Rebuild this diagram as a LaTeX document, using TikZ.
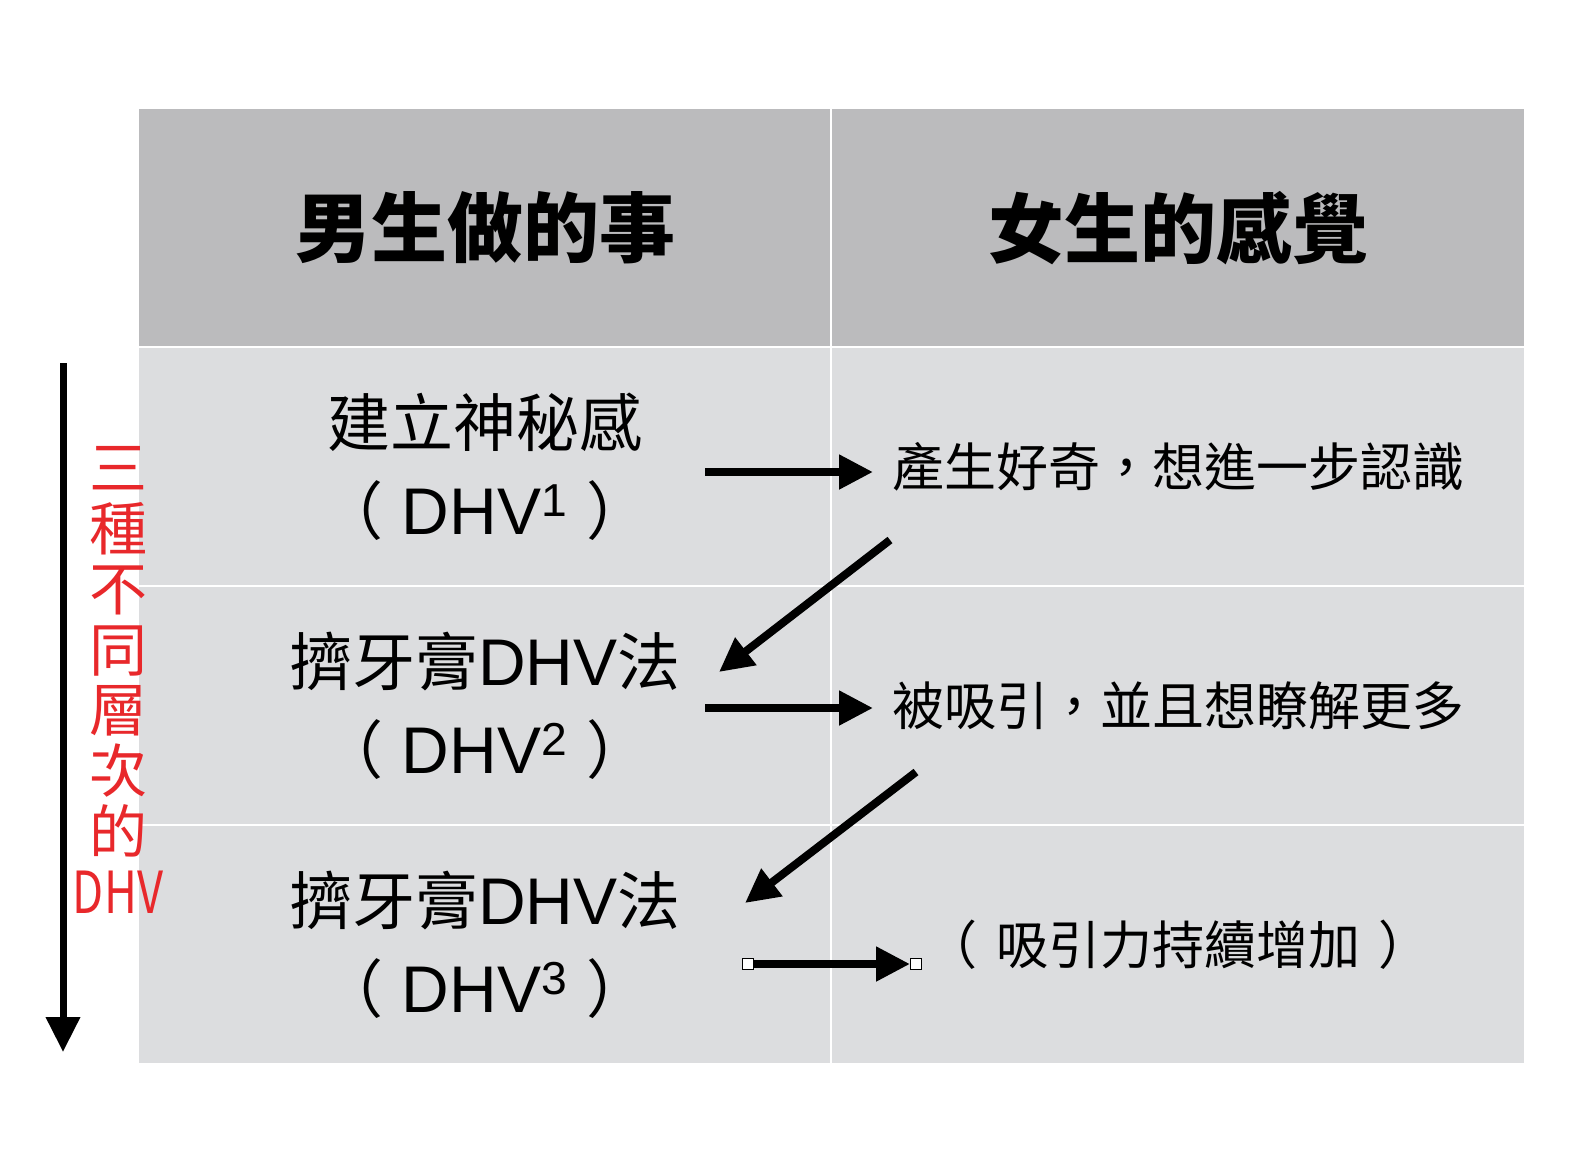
\documentclass[tikz,border=0pt]{standalone}
\usepackage{fontspec}
\setmainfont{Noto Sans CJK TC}
\newfontfamily\dhvcond[FakeStretch=0.78]{Noto Sans CJK TC}
\newfontfamily\latin{Liberation Sans}
\usetikzlibrary{arrows.meta,calc}
\definecolor{headgray}{HTML}{BBBBBD}
\definecolor{bodygray}{HTML}{DCDDDF}
\definecolor{dhvred}{HTML}{E8282B}
\newcommand{\dhv}[1]{（\kern0.3em{\latin\fontsize{33}{44}\selectfont DHV\textsuperscript{#1}}\kern0.3em）}

\begin{document}
\begin{tikzpicture}[x=0.5pt,y=-0.5pt,
    cell/.style={draw=white,line width=0.8pt,minimum width=347pt,minimum height=119.5pt,inner sep=0pt,outer sep=0pt},
    hdr/.style={cell,fill=headgray,font=\fontsize{38}{40}\selectfont\bfseries},
    row/.style={cell,fill=bodygray},
    did/.style={align=center,font=\fontsize{31.5}{44}\selectfont},
    felt/.style={font=\fontsize{26}{30}\selectfont},
    fat/.style={line width=4pt,-{Triangle[length=17pt,width=16.5pt]}},
    grip/.style={draw=black,fill=white,line width=0.5pt,minimum size=5.5pt,inner sep=0pt}]
\useasboundingbox (0,0) rectangle (1586,1152);
% header row
\node[hdr] (men) at (485,228) {男生做的事};
\node[hdr] (women) at (1178,228) {女生的感覺};
% three levels
\node[row,did] (m1) at (485,466.5) {建立神秘感\\\dhv{1}};
\node[row,felt] (w1) at (1178,466.5) {產生好奇，想進一步認識};
\node[row,did] (m2) at (485,705.5) {擠牙膏{\latin\fontsize{33}{44}\selectfont DHV}法\\\dhv{2}};
\node[row,felt] (w2) at (1178,705.5) {被吸引，並且想瞭解更多};
\node[row,did] (m3) at (485,944.5) {擠牙膏{\latin\fontsize{33}{44}\selectfont DHV}法\\\dhv{3}};
\node[row,felt] (w3) at (1178,944.5) {（\kern0.35em 吸引力持續增加\kern0.35em）};
% arrows
\draw[fat] ($(m1.east)+(-127,5.5)$) -- ($(m1.east)+(41,5.5)$);
\draw[fat] ($(w1.west)+(59,73.5)$) -- ($(m2.east)+(-113,-33.5)$);
\draw[fat] ($(m2.east)+(-127,2.5)$) -- ($(m2.east)+(41,2.5)$);
\draw[fat] ($(w2.west)+(85,66.5)$) -- ($(m3.east)+(-87,-41.5)$);
\node[grip] (g1) at ($(m3.east)+(-84,19.5)$) {};
\node[grip] (g2) at ($(m3.east)+(84,19.5)$) {};
\draw[fat] (g1) -- (g2);
% left side
\coordinate (down0) at (63,363);
\coordinate (down1) at (63,1052);
\draw[line width=3.5pt,-{Triangle[length=17.5pt,width=16.5pt]}] (down0) -- (down1);
\node[text=dhvred,align=center,inner sep=0pt,font=\fontsize{29}{30.3}\selectfont] (levels) at (118,680)
    {三\\種\\不\\同\\層\\次\\的\\{\dhvcond DHV}};
\end{tikzpicture}
\end{document}
